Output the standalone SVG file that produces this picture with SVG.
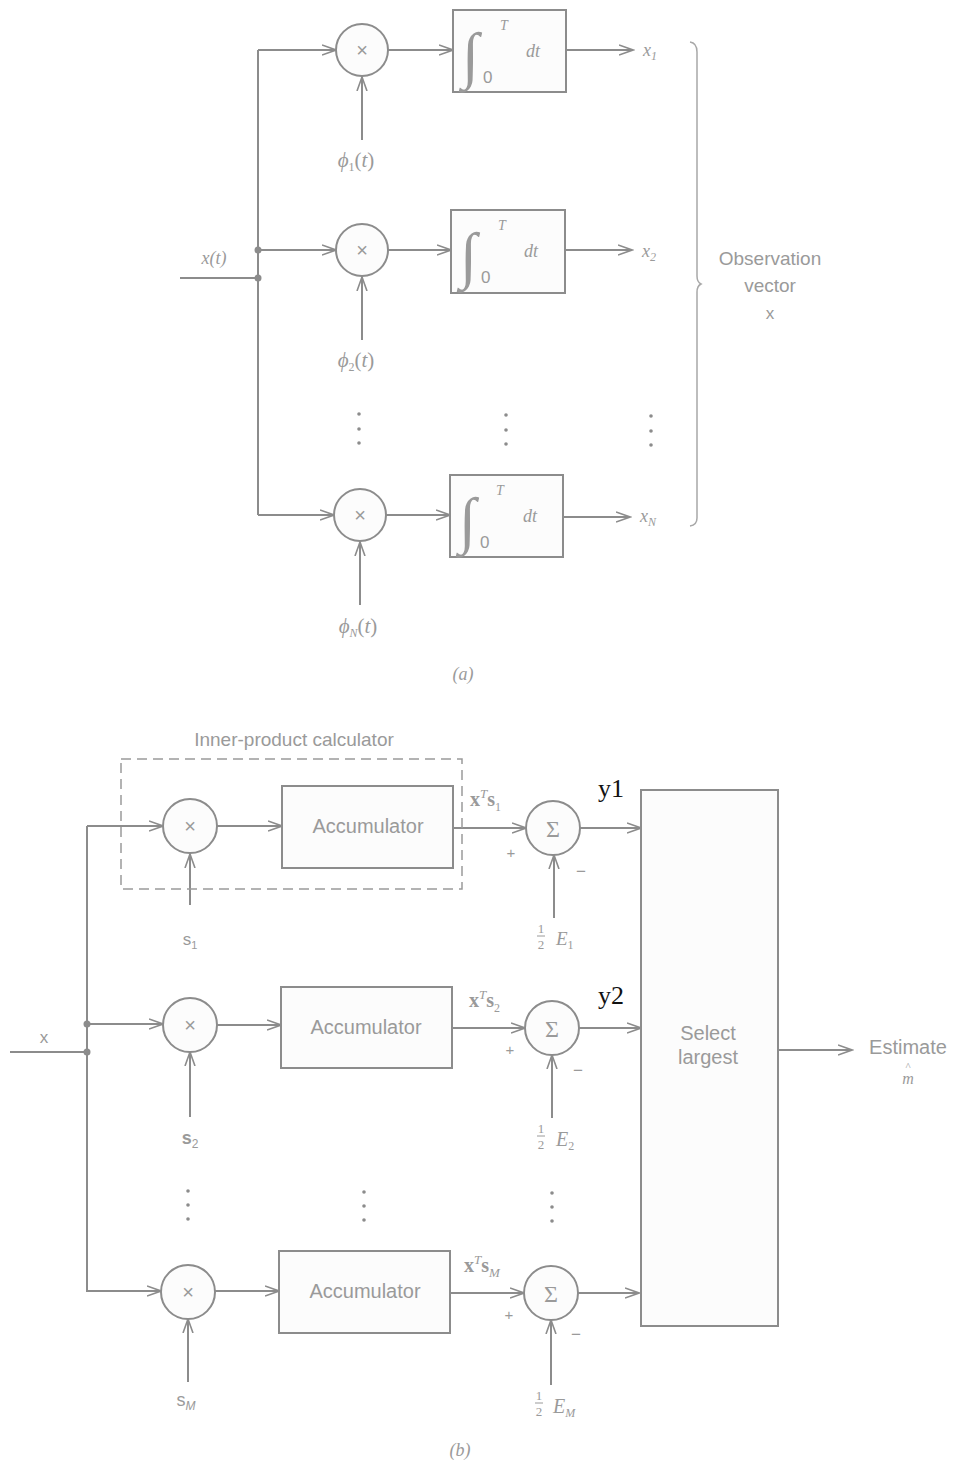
<svg xmlns="http://www.w3.org/2000/svg" width="955" height="1463" viewBox="0 0 955 1463">
<style>
.ln{stroke:#8c8c8c;stroke-width:2;fill:none}
.bx{stroke:#8c8c8c;stroke-width:2;fill:#fcfcfc}
.t{font-family:"Liberation Sans",Arial,sans-serif;fill:#9a9a9a}
.s{font-family:"Liberation Serif","Times New Roman",serif;fill:#9a9a9a}
.i{font-style:italic}
.k{font-family:"Liberation Serif","Times New Roman",serif;fill:#111}
.dot{fill:#8c8c8c}
</style>
<defs>
<marker id="ar" markerUnits="userSpaceOnUse" markerWidth="16" markerHeight="12" refX="14" refY="6" orient="auto">
<path d="M0,1 L14,6 L0,11" fill="none" stroke="#8c8c8c" stroke-width="1.6"/>
</marker>
</defs>
<rect width="955" height="1463" fill="#ffffff"/>

<!-- ===== Part (a) ===== -->
<g id="connectors-a">
<path class="ln" d="M258,50 V515"/>
<line class="ln" x1="258" y1="50" x2="336" y2="50" marker-end="url(#ar)"/>
<line class="ln" x1="258" y1="515" x2="334" y2="515" marker-end="url(#ar)"/>
<line class="ln" x1="258" y1="250" x2="336" y2="250" marker-end="url(#ar)"/>
<line class="ln" x1="180" y1="278" x2="258" y2="278"/>
<circle class="dot" cx="258" cy="250" r="3.5"/>
<circle class="dot" cx="258" cy="278" r="3.5"/>
<line class="ln" x1="388" y1="50" x2="453" y2="50" marker-end="url(#ar)"/>
<line class="ln" x1="388" y1="250" x2="451" y2="250" marker-end="url(#ar)"/>
<line class="ln" x1="386" y1="515" x2="450" y2="515" marker-end="url(#ar)"/>
<line class="ln" x1="566" y1="50" x2="633" y2="50" marker-end="url(#ar)"/>
<line class="ln" x1="565" y1="250" x2="632" y2="250" marker-end="url(#ar)"/>
<line class="ln" x1="563" y1="517" x2="630" y2="517" marker-end="url(#ar)"/>
<line class="ln" x1="362" y1="140" x2="362" y2="77" marker-end="url(#ar)"/>
<line class="ln" x1="362" y1="340" x2="362" y2="277" marker-end="url(#ar)"/>
<line class="ln" x1="360" y1="605" x2="360" y2="542" marker-end="url(#ar)"/>
<path d="M690,42 Q697,43 697,52 V276 Q697,282 701,284 Q697,286 697,292 V518 Q697,525 690,526" fill="none" stroke="#a8a8a8" stroke-width="1.5"/>
</g>

<g id="mult-a1"><circle class="bx" cx="362" cy="50" r="26"/><text class="t" x="362" y="57" font-size="20" text-anchor="middle">×</text></g>
<g id="mult-a2"><circle class="bx" cx="362" cy="250" r="26"/><text class="t" x="362" y="257" font-size="20" text-anchor="middle">×</text></g>
<g id="mult-aN"><circle class="bx" cx="360" cy="515" r="26"/><text class="t" x="360" y="522" font-size="20" text-anchor="middle">×</text></g>

<g id="int-a1"><rect class="bx" x="453" y="10" width="113" height="82"/>
<text class="s i" x="462" y="76" font-size="62">∫</text><text class="s i" x="500" y="30" font-size="14">T</text><text class="t" x="483" y="83" font-size="17">0</text><text class="s i" x="526" y="57" font-size="18">dt</text></g>
<g id="int-a2"><rect class="bx" x="451" y="210" width="114" height="83"/>
<text class="s i" x="460" y="276" font-size="62">∫</text><text class="s i" x="498" y="230" font-size="14">T</text><text class="t" x="481" y="283" font-size="17">0</text><text class="s i" x="524" y="257" font-size="18">dt</text></g>
<g id="int-aN"><rect class="bx" x="450" y="475" width="113" height="82"/>
<text class="s i" x="459" y="541" font-size="62">∫</text><text class="s i" x="496" y="495" font-size="14">T</text><text class="t" x="480" y="548" font-size="17">0</text><text class="s i" x="523" y="522" font-size="18">dt</text></g>

<g id="labels-a">
<text class="s i" x="214" y="264" font-size="18" text-anchor="middle">x(t)</text>
<text class="s i" x="643" y="56" font-size="18">x<tspan font-size="12" dy="4">1</tspan></text>
<text class="s i" x="642" y="257" font-size="18">x<tspan font-size="12" dy="4">2</tspan></text>
<text class="s i" x="640" y="522" font-size="18">x<tspan font-size="12" dy="4">N</tspan></text>
<text class="s" x="356" y="167" font-size="21" text-anchor="middle"><tspan class="i">ϕ</tspan><tspan font-size="12" dy="4">1</tspan><tspan dy="-4">(</tspan><tspan class="i">t</tspan>)</text>
<text class="s" x="356" y="367" font-size="21" text-anchor="middle"><tspan class="i">ϕ</tspan><tspan font-size="12" dy="4">2</tspan><tspan dy="-4">(</tspan><tspan class="i">t</tspan>)</text>
<text class="s" x="358" y="633" font-size="21" text-anchor="middle"><tspan class="i">ϕ</tspan><tspan font-size="12" dy="4" class="i">N</tspan><tspan dy="-4">(</tspan><tspan class="i">t</tspan>)</text>
<text class="t" x="770" y="265" font-size="19" text-anchor="middle">Observation</text>
<text class="t" x="770" y="292" font-size="19" text-anchor="middle">vector</text>
<text class="t" x="770" y="319" font-size="17" text-anchor="middle">x</text>
<text class="s i" x="463" y="680" font-size="18" text-anchor="middle">(a)</text>
<circle class="dot" cx="359" cy="414" r="1.8"/><circle class="dot" cx="359" cy="429" r="1.8"/><circle class="dot" cx="359" cy="443" r="1.8"/>
<circle class="dot" cx="506" cy="415" r="1.8"/><circle class="dot" cx="506" cy="430" r="1.8"/><circle class="dot" cx="506" cy="444" r="1.8"/>
<circle class="dot" cx="651" cy="416" r="1.8"/><circle class="dot" cx="651" cy="431" r="1.8"/><circle class="dot" cx="651" cy="445" r="1.8"/>
</g>

<!-- ===== Part (b) ===== -->
<g id="connectors-b">
<path class="ln" d="M87,826 V1292"/>
<line class="ln" x1="87" y1="826" x2="163" y2="826" marker-end="url(#ar)"/>
<line class="ln" x1="87" y1="1024" x2="163" y2="1024" marker-end="url(#ar)"/>
<line class="ln" x1="87" y1="1291" x2="161" y2="1291" marker-end="url(#ar)"/>
<line class="ln" x1="10" y1="1052" x2="87" y2="1052"/>
<circle class="dot" cx="87" cy="1024" r="3.5"/>
<circle class="dot" cx="87" cy="1052" r="3.5"/>
<line class="ln" x1="217" y1="826" x2="282" y2="826" marker-end="url(#ar)"/>
<line class="ln" x1="217" y1="1025" x2="281" y2="1025" marker-end="url(#ar)"/>
<line class="ln" x1="215" y1="1291" x2="279" y2="1291" marker-end="url(#ar)"/>
<line class="ln" x1="453" y1="828" x2="526" y2="828" marker-end="url(#ar)"/>
<line class="ln" x1="452" y1="1028" x2="525" y2="1028" marker-end="url(#ar)"/>
<line class="ln" x1="450" y1="1293" x2="524" y2="1293" marker-end="url(#ar)"/>
<line class="ln" x1="580" y1="828" x2="641" y2="828" marker-end="url(#ar)"/>
<line class="ln" x1="579" y1="1028" x2="641" y2="1028" marker-end="url(#ar)"/>
<line class="ln" x1="578" y1="1293" x2="639" y2="1293" marker-end="url(#ar)"/>
<line class="ln" x1="778" y1="1050" x2="852" y2="1050" marker-end="url(#ar)"/>
<line class="ln" x1="190" y1="905" x2="190" y2="854" marker-end="url(#ar)"/>
<line class="ln" x1="190" y1="1117" x2="190" y2="1052" marker-end="url(#ar)"/>
<line class="ln" x1="188" y1="1382" x2="188" y2="1319" marker-end="url(#ar)"/>
<line class="ln" x1="554" y1="918" x2="554" y2="855" marker-end="url(#ar)"/>
<line class="ln" x1="552" y1="1118" x2="552" y2="1055" marker-end="url(#ar)"/>
<line class="ln" x1="551" y1="1385" x2="551" y2="1320" marker-end="url(#ar)"/>
</g>

<g id="inner-product-box">
<rect x="121" y="759" width="341" height="130" fill="none" stroke="#9a9a9a" stroke-width="1.5" stroke-dasharray="10,6"/>
<text class="t" x="294" y="746" font-size="19" text-anchor="middle">Inner-product calculator</text>
</g>

<g id="mult-b1"><circle class="bx" cx="190" cy="826" r="27"/><text class="t" x="190" y="833" font-size="20" text-anchor="middle">×</text></g>
<g id="mult-b2"><circle class="bx" cx="190" cy="1025" r="27"/><text class="t" x="190" y="1032" font-size="20" text-anchor="middle">×</text></g>
<g id="mult-bM"><circle class="bx" cx="188" cy="1292" r="27"/><text class="t" x="188" y="1299" font-size="20" text-anchor="middle">×</text></g>

<g id="acc-1"><rect class="bx" x="282" y="786" width="171" height="82"/><text class="t" x="368" y="833" font-size="20" text-anchor="middle">Accumulator</text></g>
<g id="acc-2"><rect class="bx" x="281" y="987" width="171" height="81"/><text class="t" x="366" y="1034" font-size="20" text-anchor="middle">Accumulator</text></g>
<g id="acc-M"><rect class="bx" x="279" y="1251" width="171" height="82"/><text class="t" x="365" y="1298" font-size="20" text-anchor="middle">Accumulator</text></g>

<g id="sum-1"><circle class="bx" cx="553" cy="828" r="27"/><text class="s" x="553" y="837" font-size="24" text-anchor="middle">Σ</text></g>
<g id="sum-2"><circle class="bx" cx="552" cy="1028" r="27"/><text class="s" x="552" y="1037" font-size="24" text-anchor="middle">Σ</text></g>
<g id="sum-M"><circle class="bx" cx="551" cy="1293" r="27"/><text class="s" x="551" y="1302" font-size="24" text-anchor="middle">Σ</text></g>

<g id="select-largest"><rect class="bx" x="641" y="790" width="137" height="536"/>
<text class="t" x="708" y="1040" font-size="20" text-anchor="middle">Select</text>
<text class="t" x="708" y="1064" font-size="20" text-anchor="middle">largest</text></g>

<g id="labels-b">
<text class="t" x="44" y="1043" font-size="17" text-anchor="middle">x</text>
<text class="s" x="470" y="806" font-size="20"><tspan font-weight="bold">x</tspan><tspan class="i" font-size="13" dy="-8">T</tspan><tspan font-weight="bold" dy="8">s</tspan><tspan font-size="12" dy="5">1</tspan></text>
<text class="s" x="469" y="1007" font-size="20"><tspan font-weight="bold">x</tspan><tspan class="i" font-size="13" dy="-8">T</tspan><tspan font-weight="bold" dy="8">s</tspan><tspan font-size="12" dy="5">2</tspan></text>
<text class="s" x="464" y="1272" font-size="20"><tspan font-weight="bold">x</tspan><tspan class="i" font-size="13" dy="-8">T</tspan><tspan font-weight="bold" dy="8">s</tspan><tspan class="i" font-size="13" dy="5">M</tspan></text>
<text class="t" x="511" y="858" font-size="15" text-anchor="middle">+</text>
<text class="t" x="510" y="1055" font-size="15" text-anchor="middle">+</text>
<text class="t" x="509" y="1320" font-size="15" text-anchor="middle">+</text>
<text class="t" x="581" y="877" font-size="17" text-anchor="middle">−</text>
<text class="t" x="578" y="1076" font-size="17" text-anchor="middle">−</text>
<text class="t" x="576" y="1340" font-size="17" text-anchor="middle">−</text>
<text class="t" x="190" y="945" font-size="17" text-anchor="middle">s<tspan font-size="11" dy="4">1</tspan></text>
<text class="t" x="190" y="1144" font-size="18" text-anchor="middle" font-weight="bold">s<tspan font-size="12" dy="4" font-weight="normal">2</tspan></text>
<text class="t" x="186" y="1406" font-size="18" text-anchor="middle">s<tspan class="i" font-size="12" dy="4">M</tspan></text>
<g id="half-E1"><text class="s" x="541" y="933" font-size="13" text-anchor="middle">1</text><line x1="537" y1="936" x2="545" y2="936" stroke="#9a9a9a" stroke-width="1"/><text class="s" x="541" y="949" font-size="13" text-anchor="middle">2</text><text class="s i" x="556" y="945" font-size="19">E<tspan font-size="12" dy="4" font-style="normal">1</tspan></text></g>
<g id="half-E2"><text class="s" x="541" y="1133" font-size="13" text-anchor="middle">1</text><line x1="537" y1="1136" x2="545" y2="1136" stroke="#9a9a9a" stroke-width="1"/><text class="s" x="541" y="1149" font-size="13" text-anchor="middle">2</text><text class="s i" x="556" y="1146" font-size="20">E<tspan font-size="12" dy="4" font-style="normal">2</tspan></text></g>
<g id="half-EM"><text class="s" x="539" y="1400" font-size="13" text-anchor="middle">1</text><line x1="535" y1="1403" x2="543" y2="1403" stroke="#9a9a9a" stroke-width="1"/><text class="s" x="539" y="1416" font-size="13" text-anchor="middle">2</text><text class="s i" x="553" y="1413" font-size="20">E<tspan font-size="12" dy="4">M</tspan></text></g>
<text class="t" x="908" y="1054" font-size="20" text-anchor="middle">Estimate</text>
<text class="s" x="908" y="1070" font-size="11" text-anchor="middle">^</text>
<text class="s i" x="908" y="1084" font-size="16" text-anchor="middle">m</text>
<text class="k" x="598" y="797" font-size="26">y1</text>
<text class="k" x="598" y="1004" font-size="26">y2</text>
<text class="s i" x="460" y="1456" font-size="18" text-anchor="middle">(b)</text>
<circle class="dot" cx="188" cy="1191" r="1.8"/><circle class="dot" cx="188" cy="1205" r="1.8"/><circle class="dot" cx="188" cy="1219" r="1.8"/>
<circle class="dot" cx="364" cy="1192" r="1.8"/><circle class="dot" cx="364" cy="1206" r="1.8"/><circle class="dot" cx="364" cy="1220" r="1.8"/>
<circle class="dot" cx="552" cy="1193" r="1.8"/><circle class="dot" cx="552" cy="1207" r="1.8"/><circle class="dot" cx="552" cy="1221" r="1.8"/>
</g>
</svg>
